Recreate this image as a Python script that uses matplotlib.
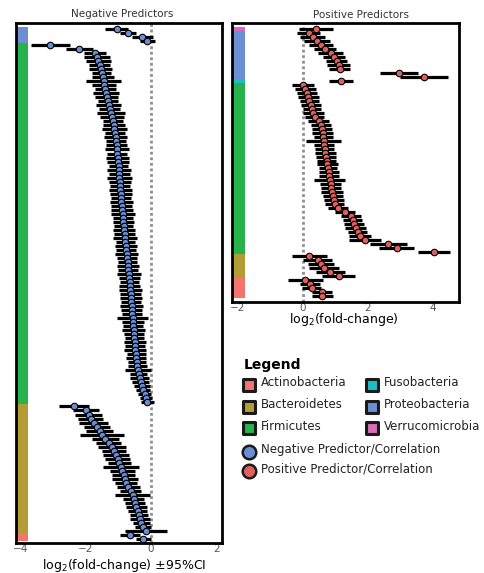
import numpy as np
import matplotlib
matplotlib.use("Agg")
import matplotlib.pyplot as plt

plt.rcParams["font.family"] = ["DejaVu Sans"]

PHYLA = ["Actinobacteria", "Bacteroidetes", "Firmicutes",
         "Fusobacteria", "Proteobacteria", "Verrucomicrobia"]
PHYLUM_COLORS = ["#F4756D", "#B39C33", "#27B34B", "#1DBFC3", "#6C8FD3", "#D56DB8"]
NEG_COLOR = "#6A8ED4"
POS_COLOR = "#E0605C"

# ---- negative predictors (log2 fold-change, 95% CI half-width), top to bottom
neg_proteo = [-1.06, -0.70, -0.27, -0.11]
neg_proteo_ci = [0.35, 0.25, 0.33, 0.22]

neg_firmi = [-3.10, -2.20, -1.72, -1.66, -1.62, -1.58, -1.55, -1.52, -1.49, -1.46,
             -1.44, -1.41, -1.39, -1.36, -1.33, -1.30, -1.27, -1.23, -1.20, -1.18,
             -1.15, -1.13, -1.11, -1.09, -1.08, -1.06, -1.05, -1.04, -1.03, -1.02,
             -1.00, -0.99, -0.98, -0.97, -0.96, -0.95, -0.94, -0.93, -0.92, -0.91,
             -0.90, -0.89, -0.87, -0.86, -0.85, -0.84, -0.83, -0.81, -0.80, -0.79,
             -0.77, -0.76, -0.75, -0.74, -0.72, -0.71, -0.70, -0.68, -0.67, -0.66,
             -0.65, -0.64, -0.63, -0.62, -0.61, -0.60, -0.59, -0.58, -0.57, -0.56,
             -0.55, -0.53, -0.52, -0.51, -0.50, -0.49, -0.48, -0.46, -0.45, -0.43,
             -0.42, -0.40, -0.38, -0.35, -0.32, -0.28, -0.24, -0.19, -0.15, -0.12]
neg_firmi_ci = [0.60, 0.42, 0.35, 0.40, 0.38, 0.33, 0.36, 0.30, 0.34, 0.55,
                0.36, 0.32, 0.40, 0.35, 0.30, 0.38, 0.33, 0.42, 0.36, 0.31,
                0.34, 0.38, 0.32, 0.36, 0.30, 0.33, 0.37, 0.31, 0.35, 0.33,
                0.30, 0.36, 0.32, 0.38, 0.34, 0.31, 0.35, 0.33, 0.30, 0.36,
                0.32, 0.34, 0.37, 0.31, 0.33, 0.30, 0.35, 0.32, 0.36, 0.30,
                0.33, 0.31, 0.35, 0.32, 0.30, 0.34, 0.31, 0.36, 0.33, 0.30,
                0.32, 0.35, 0.31, 0.33, 0.30, 0.34, 0.32, 0.31, 0.48, 0.33,
                0.30, 0.35, 0.31, 0.28, 0.33, 0.30, 0.34, 0.29, 0.31, 0.28,
                0.30, 0.40, 0.27, 0.29, 0.26, 0.24, 0.22, 0.20, 0.18, 0.20]

neg_bacter = [-2.37, -2.00, -1.92, -1.85, -1.76, -1.66, -1.58, -1.50, -1.40, -1.30,
              -1.20, -1.14, -1.08, -1.02, -0.97, -0.92, -0.88, -0.84, -0.80, -0.76,
              -0.70, -0.63, -0.57, -0.53, -0.49, -0.45, -0.41, -0.38, -0.34, -0.30,
              -0.25, -0.15]
neg_bacter_ci = [0.46, 0.40, 0.42, 0.38, 0.45, 0.40, 0.42, 0.68, 0.40, 0.38,
                 0.42, 0.36, 0.40, 0.38, 0.35, 0.56, 0.38, 0.36, 0.40, 0.34,
                 0.36, 0.33, 0.55, 0.32, 0.30, 0.33, 0.30, 0.28, 0.30, 0.27,
                 0.25, 0.65]

neg_actino = [-0.64, -0.24]
neg_actino_ci = [0.30, 0.23]

# ---- positive predictors, top to bottom
pos_verruco = [0.40]
pos_verruco_ci = [0.53]

pos_proteo = [0.18, 0.30, 0.43, 0.56, 0.68, 0.85, 0.96, 1.04, 1.10, 1.13, 2.95, 3.73]
pos_proteo_ci = [0.35, 0.38, 0.40, 0.36, 0.34, 0.38, 0.35, 0.33, 0.36, 0.32, 0.59, 0.73]

pos_fuso = [1.17]
pos_fuso_ci = [0.37]

pos_firmi = [0.00, 0.08, 0.13, 0.17, 0.20, 0.24, 0.28, 0.32, 0.36, 0.48,
             0.56, 0.59, 0.61, 0.63, 0.64, 0.66, 0.67, 0.69, 0.71, 0.73,
             0.75, 0.77, 0.79, 0.80, 0.83, 0.85, 0.87, 0.90, 0.92, 0.95,
             0.98, 1.08, 1.30, 1.49, 1.53, 1.57, 1.62, 1.68, 1.75, 1.92,
             2.63, 2.88, 4.03]
pos_firmi_ci = [0.34, 0.32, 0.30, 0.33, 0.30, 0.31, 0.29, 0.32, 0.30, 0.33,
                0.31, 0.30, 0.32, 0.29, 0.54, 0.31, 0.30, 0.33, 0.31, 0.30,
                0.32, 0.29, 0.31, 0.30, 0.48, 0.31, 0.30, 0.33, 0.30, 0.31,
                0.29, 0.32, 0.30, 0.31, 0.30, 0.32, 0.31, 0.30, 0.33, 0.49,
                0.57, 0.55, 0.49]

pos_bacter = [0.20, 0.45, 0.55, 0.65, 0.84, 1.10]
pos_bacter_ci = [0.55, 0.45, 0.40, 0.45, 0.45, 0.50]

pos_actino = [0.07, 0.22, 0.27, 0.58, 0.60]
pos_actino_ci = [0.54, 0.30, 0.30, 0.30, 0.33]


def stack(blocks):
    phylum, vals, ci = [], [], []
    for name, v, c in blocks:
        phylum += [name] * len(v)
        vals += v
        ci += c
    return phylum, np.array(vals), np.array(ci)


def draw_panel(ax, blocks, xlim, strip_w, point_color, pad_top, pad_bot):
    phylum, vals, ci = stack(blocks)
    rows = np.arange(len(vals))
    colors = [PHYLUM_COLORS[PHYLA.index(p)] for p in phylum]

    # phylum strip along the left edge
    ax.barh(rows, strip_w, left=xlim[0], height=1.0, color=colors, linewidth=0, zorder=1)
    ax.axvline(0, color="#8f8f8f", linestyle=(0, (1, 1)), linewidth=2.0, zorder=1)
    ax.errorbar(vals, rows, xerr=ci, fmt="none", ecolor="black",
                elinewidth=2.3, capsize=0, zorder=2)
    ax.scatter(vals, rows, s=22, c=point_color, edgecolors="black",
               linewidths=0.8, zorder=3)

    ax.set_ylim(len(vals) - 1 + pad_bot, -pad_top)
    ax.set_yticks([])
    ax.set_xticks([-4, -2, 0, 2, 4])
    ax.set_xlim(*xlim)
    ax.tick_params(axis="x", length=0, pad=0.5, labelsize=7.5, labelcolor="#555555")
    for s in ax.spines.values():
        s.set_linewidth(2.0)
        s.set_color("black")


fig = plt.figure(figsize=(4.85, 5.73), dpi=100)
W, H = 485, 573

ax_neg = fig.add_axes([16 / W, 1 - 543 / H, 206 / W, 520 / H])
draw_panel(ax_neg,
           [("Proteobacteria", neg_proteo, neg_proteo_ci),
            ("Firmicutes", neg_firmi, neg_firmi_ci),
            ("Bacteroidetes", neg_bacter, neg_bacter_ci),
            ("Actinobacteria", neg_actino, neg_actino_ci)],
           (-4.15, 2.18), 0.37, NEG_COLOR, 1.5, 1.0)

ax_pos = fig.add_axes([232 / W, 1 - 302 / H, 227 / W, 279 / H])
draw_panel(ax_pos,
           [("Verrucomicrobia", pos_verruco, pos_verruco_ci),
            ("Proteobacteria", pos_proteo, pos_proteo_ci),
            ("Fusobacteria", pos_fuso, pos_fuso_ci),
            ("Firmicutes", pos_firmi, pos_firmi_ci),
            ("Bacteroidetes", pos_bacter, pos_bacter_ci),
            ("Actinobacteria", pos_actino, pos_actino_ci)],
           (-2.18, 4.80), 0.40, POS_COLOR, 1.4, 1.4)

fig.text(122 / W, 1 - 14 / H, "Negative Predictors", ha="center", va="center",
         fontsize=7.5, color="#333333")
fig.text(361 / W, 1 - 15 / H, "Positive Predictors", ha="center", va="center",
         fontsize=7.5, color="#333333")
fig.text(124 / W, 1 - 566 / H, r"log$_2$(fold-change) ±95%CI", ha="center",
         va="center", fontsize=9)
fig.text(344 / W, 1 - 320 / H, r"log$_2$(fold-change)", ha="center",
         va="center", fontsize=9)

# legend drawn in pixel space
lax = fig.add_axes([0, 0, 1, 1], zorder=5)
lax.set_xlim(0, W)
lax.set_ylim(H, 0)
lax.axis("off")
lax.text(244, 365, "Legend", fontsize=10, fontweight="bold", va="center", ha="left")
for k, (name, col) in enumerate(zip(PHYLA, PHYLUM_COLORS)):
    cx = 249 + (k // 3) * 123
    cy = 385 + (k % 3) * 21.5
    lax.scatter([cx], [cy], marker="s", s=75, c=col, edgecolors="#1a1a1a", linewidths=2.2)
    lax.text(cx + 12, cy - 2, name, fontsize=8.5, va="center", ha="left", color="#222222")
for k, (label, col) in enumerate([("Negative Predictor/Correlation", NEG_COLOR),
                                  ("Positive Predictor/Correlation", POS_COLOR)]):
    cy = 452 + k * 18.5
    lax.scatter([249], [cy], marker="o", s=95, c=col, edgecolors="#1a1a1a", linewidths=1.8)
    lax.text(261, cy - 2, label, fontsize=8.5, va="center", ha="left", color="#222222")

fig.savefig("out.png", dpi=100)
